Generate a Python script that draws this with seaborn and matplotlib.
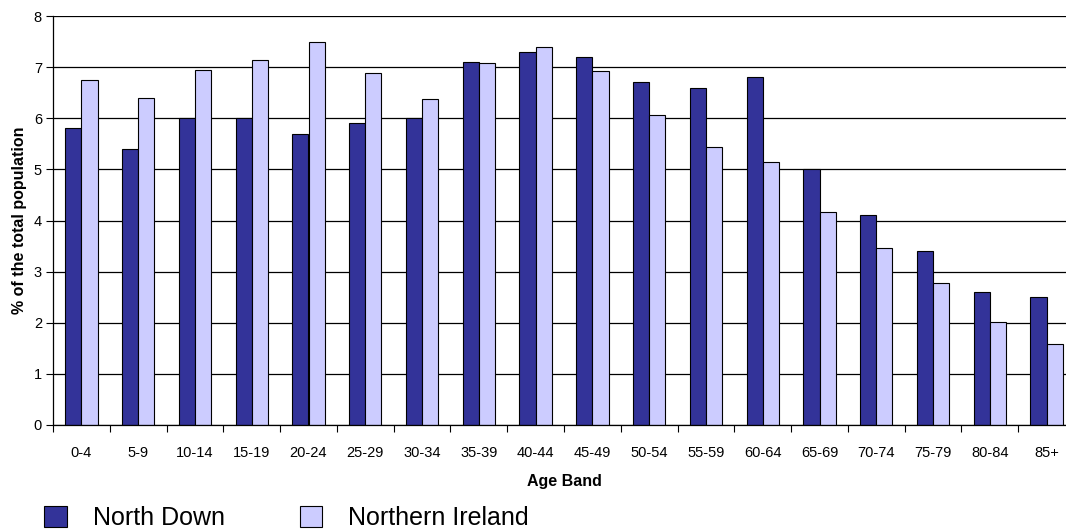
import pandas as pd
import numpy as np
import matplotlib
matplotlib.use("Agg")
import matplotlib.pyplot as plt
import seaborn as sns
from matplotlib.patches import Patch

# Dữ liệu
age_bands = ["0-4", "5-9", "10-14", "15-19", "20-24", "25-29", "30-34", "35-39",
             "40-44", "45-49", "50-54", "55-59", "60-64", "65-69", "70-74",
             "75-79", "80-84", "85+"]
north_down = [5.8, 5.4, 6.0, 6.0, 5.7, 5.9, 6.0, 7.1, 7.3, 7.2, 6.7, 6.6, 6.8,
              5.0, 4.1, 3.4, 2.6, 2.5]
northern_ireland = [6.74, 6.40, 6.95, 7.14, 7.49, 6.88, 6.37, 7.09, 7.39, 6.93,
                    6.06, 5.44, 5.15, 4.17, 3.47, 2.78, 2.01, 1.58]
series_names = ["North Down", "Northern Ireland"]
colors = ["#333399", "#CCCCFF"]

df = pd.DataFrame({
    "Age Band": age_bands * 2,
    "value": north_down + northern_ireland,
    "Area": [series_names[0]] * len(age_bands) + [series_names[1]] * len(age_bands),
})

sns.set_theme(style="white")
plt.rcParams["font.family"] = ["Liberation Sans", "DejaVu Sans"]
plt.rcParams.update({"text.color": "black", "axes.labelcolor": "black",
                     "xtick.color": "black", "ytick.color": "black"})

fig = plt.figure(figsize=(10.66, 5.30), dpi=100)
ax = fig.add_axes([53 / 1066, 1 - 425 / 530, (1075 - 53) / 1066, 409 / 530])

sns.barplot(data=df, x="Age Band", y="value", hue="Area", order=age_bands,
            hue_order=series_names, palette=colors, width=0.57,
            edgecolor="black", linewidth=0.8, saturation=1, ax=ax, legend=False)

ax.set_axisbelow(True)
ax.set_ylim(0, 8)
ax.set_xlim(-0.5, len(age_bands) - 0.5)
ax.set_yticks(range(0, 9))
ax.yaxis.grid(True, color="black", linewidth=0.9)
ax.xaxis.grid(False)

# nhãn ở giữa nhóm, vạch chia ở ranh giới giữa các nhóm
ax.set_xticks(range(len(age_bands)))
ax.set_xticklabels(age_bands, fontsize=10.5)
ax.set_xticks(np.arange(-0.5, len(age_bands)), minor=True)
ax.tick_params(axis="x", which="major", length=0, pad=15)
ax.tick_params(axis="x", which="minor", length=5, width=0.8, color="black", direction="out", bottom=True)
ax.tick_params(axis="y", length=5, width=0.8, color="black", direction="out", left=True, labelsize=10.5, pad=3)

for side in ["top", "right"]:
    ax.spines[side].set_visible(False)
for side in ["left", "bottom"]:
    ax.spines[side].set_color("black")
    ax.spines[side].set_linewidth(0.9)

ax.set_xlabel("Age Band", fontsize=11.5, fontweight="bold", labelpad=10)
ax.set_ylabel("% of the total population", fontsize=11.5, fontweight="bold", labelpad=5)

handles = [Patch(facecolor=c, edgecolor="black", linewidth=0.8) for c in colors]
fig.legend(handles, series_names, loc="upper left", bbox_to_anchor=(44 / 1066, 1 - 506 / 530),
           ncol=2, frameon=False, fontsize=18, handlelength=0.9, handleheight=0.9,
           handletextpad=1.05, columnspacing=3.0, borderpad=0, borderaxespad=0)

plt.savefig("out.png", dpi=100)
